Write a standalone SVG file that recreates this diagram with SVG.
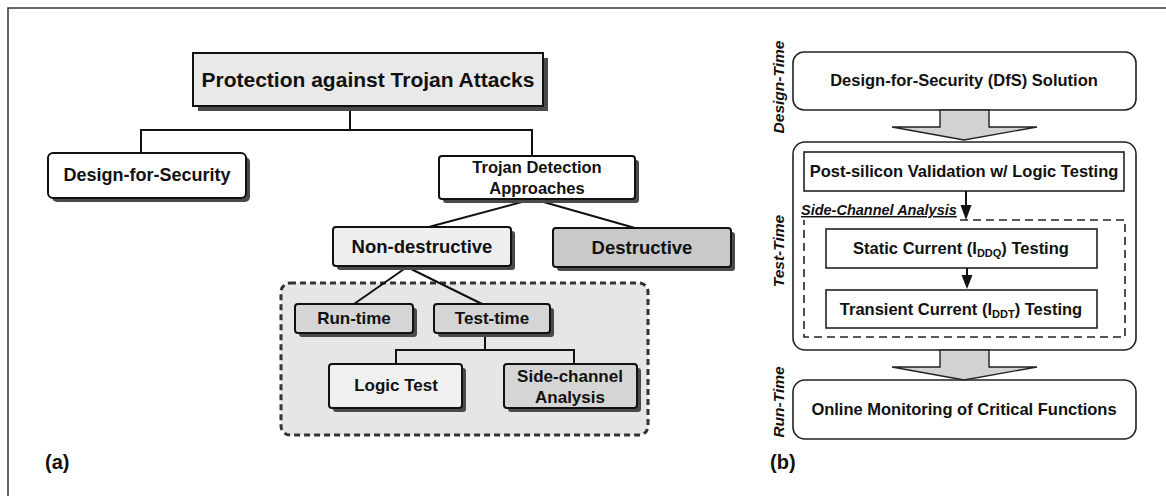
<svg xmlns="http://www.w3.org/2000/svg" width="1166" height="496" viewBox="0 0 1166 496">
  <defs>
    <style>
      text { font-family: "Liberation Sans", Arial, sans-serif; font-weight: bold; fill: #111; }
      .box { stroke: #111; stroke-width: 2; }
      .shadow { fill: #4a4a4a; stroke: none; }
      .link { fill: none; stroke: #111; stroke-width: 2; }
      .flow { fill: none; stroke: #222; stroke-width: 1.6; }
      .rot { font-style: italic; font-size: 15.5px; }
      .big { fill: #d2d2d2; stroke: #222; stroke-width: 1.4; }
    </style>
  </defs>

  <!-- outer frame -->
  <path d="M8,496 V8 H1166" fill="none" stroke="#333" stroke-width="1.5"/>

  <!-- shaded region holding the non-destructive methods -->
  <g id="non-destructive-group">
    <rect x="281" y="283" width="367" height="152" rx="9" fill="#e6e6e6" stroke="#333" stroke-width="3" stroke-dasharray="6,4"/>
  </g>

  <!-- panel (a): tree connectors -->
  <g id="connectors-a">
    <path class="link" d="M350,106 V130 M141,153 V130 H532 V156"/>
    <path class="link" d="M533,199 L425,228 M533,199 L635,228"/>
    <path class="link" d="M407,267 L354,304 M407,267 L482,304"/>
    <path class="link" d="M485,333 V350 M396,364 V350 H574 V364"/>
  </g>

  <g id="root">
    <rect class="shadow" x="198" y="58" width="350" height="53"/>
    <rect class="box" x="193" y="53" width="350" height="53" fill="#e9e9e9"/>
    <text x="368" y="87" font-size="21" text-anchor="middle">Protection against Trojan Attacks</text>
  </g>

  <g id="dfs-a">
    <rect class="shadow" x="52" y="157" width="198" height="45" rx="5"/>
    <rect class="box" x="48" y="153" width="198" height="45" rx="5" fill="#fff"/>
    <text x="147" y="181" font-size="18" text-anchor="middle">Design-for-Security</text>
  </g>

  <g id="detection">
    <rect class="shadow" x="443" y="160" width="196" height="43" rx="3"/>
    <rect class="box" x="439" y="156" width="196" height="43" rx="3" fill="#fff"/>
    <text x="537" y="173" font-size="16.5" text-anchor="middle">Trojan Detection</text>
    <text x="537" y="194" font-size="16.5" text-anchor="middle">Approaches</text>
  </g>

  <g id="non-destructive">
    <rect class="shadow" x="337" y="231" width="178" height="39" rx="3"/>
    <rect class="box" x="333" y="227" width="178" height="39" rx="3" fill="#efefef"/>
    <text x="422" y="253" font-size="18.5" text-anchor="middle">Non-destructive</text>
  </g>

  <g id="destructive">
    <rect class="shadow" x="557" y="232" width="178" height="39" rx="3"/>
    <rect class="box" x="553" y="228" width="178" height="39" rx="3" fill="#c9c9c9"/>
    <text x="642" y="254" font-size="18.5" text-anchor="middle">Destructive</text>
  </g>

  <g id="run-time">
    <rect class="shadow" x="299" y="308" width="118" height="29" rx="3"/>
    <rect class="box" x="295" y="304" width="118" height="29" rx="3" fill="#d5d5d5"/>
    <text x="354" y="324" font-size="17" text-anchor="middle">Run-time</text>
  </g>

  <g id="test-time">
    <rect class="shadow" x="438" y="308" width="116" height="29" rx="3"/>
    <rect class="box" x="434" y="304" width="116" height="29" rx="3" fill="#d5d5d5"/>
    <text x="492" y="324" font-size="17" text-anchor="middle">Test-time</text>
  </g>

  <g id="logic-test">
    <rect class="shadow" x="333" y="368" width="133" height="44" rx="3"/>
    <rect class="box" x="329" y="364" width="133" height="44" rx="3" fill="#f0f0f0"/>
    <text x="396" y="391" font-size="17" text-anchor="middle">Logic Test</text>
  </g>

  <g id="side-channel">
    <rect class="shadow" x="508" y="368" width="133" height="44" rx="3"/>
    <rect class="box" x="504" y="364" width="133" height="44" rx="3" fill="#d5d5d5"/>
    <text x="570" y="382" font-size="17" text-anchor="middle">Side-channel</text>
    <text x="570" y="403" font-size="17" text-anchor="middle">Analysis</text>
  </g>

  <text x="45" y="469" font-size="20">(a)</text>

  <!-- panel (b): design flow -->
  <text class="rot" transform="translate(784,87) rotate(-90)" text-anchor="middle">Design-Time</text>
  <text class="rot" transform="translate(784,251) rotate(-90)" text-anchor="middle">Test-Time</text>
  <text class="rot" transform="translate(784,402) rotate(-90)" text-anchor="middle">Run-Time</text>

  <g id="dfs-solution">
    <rect class="flow" x="793" y="52" width="343" height="58" rx="11" fill="#fff"/>
    <text x="964" y="86" font-size="16.5" text-anchor="middle">Design-for-Security (DfS) Solution</text>
  </g>

  <g id="test-phase">
    <rect class="flow" x="793" y="142" width="343" height="208" rx="12" fill="#fff"/>
  </g>

  <g id="post-silicon">
    <rect class="flow" x="804" y="152" width="320" height="39" fill="#fff"/>
    <text x="964" y="177" font-size="16.5" text-anchor="middle">Post-silicon Validation w/ Logic Testing</text>
  </g>

  <g id="side-channel-analysis">
    <path d="M960,220 H1125 V337 H804 V220" fill="none" stroke="#222" stroke-width="1.6" stroke-dasharray="8,5"/>
    <text x="801" y="215" font-size="14.5" font-style="italic" text-decoration="underline">Side-Channel Analysis</text>
  </g>

  <g id="iddq">
    <rect class="flow" x="826" y="229" width="271" height="39" fill="#fff"/>
    <text x="961" y="254" font-size="16.5" text-anchor="middle">Static Current (I<tspan font-size="11" dy="3">DDQ</tspan><tspan dy="-3">) Testing</tspan></text>
  </g>

  <g id="iddt">
    <rect class="flow" x="826" y="290" width="271" height="38" fill="#fff"/>
    <text x="961" y="315" font-size="16.5" text-anchor="middle">Transient Current (I<tspan font-size="11" dy="3">DDT</tspan><tspan dy="-3">) Testing</tspan></text>
  </g>

  <g id="online-monitoring">
    <rect class="flow" x="793" y="380" width="343" height="59" rx="12" fill="#fff"/>
    <text x="964" y="415" font-size="16.5" text-anchor="middle">Online Monitoring of Critical Functions</text>
  </g>

  <g id="connectors-b">
    <polygon class="big" points="940,110 940,127 892,127 964,140 1037,127 989,127 989,110"/>
    <polygon class="big" points="940,350 940,367 892,367 964,380 1037,367 989,367 989,350"/>
    <line x1="966" y1="191" x2="966" y2="207" stroke="#111" stroke-width="2"/>
    <polygon points="960.5,205 971.5,205 966,220" fill="#111"/>
    <line x1="967" y1="268" x2="967" y2="276" stroke="#111" stroke-width="2"/>
    <polygon points="961.5,275 972.5,275 967,289" fill="#111"/>
  </g>

  <text x="770" y="469" font-size="20">(b)</text>
</svg>
